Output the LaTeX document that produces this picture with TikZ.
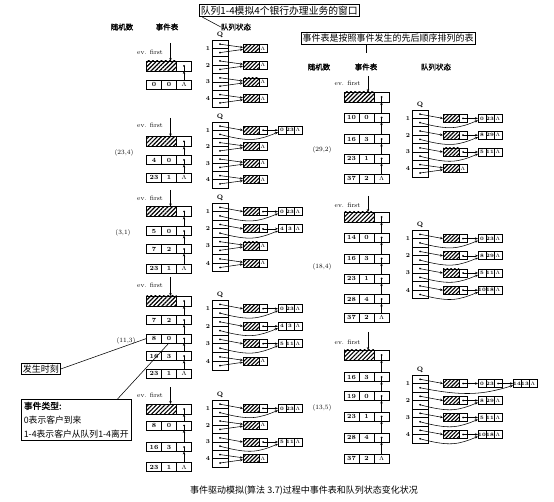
\documentclass[tikz,border=0pt]{standalone}
\usepackage{fontspec}
\newfontfamily\cjk{Noto Sans CJK SC}
\newfontfamily\cjkb[FakeBold=1.2]{Noto Sans CJK SC}
\usetikzlibrary{arrows.meta,patterns.meta}
\newcommand\fs[1]{\fontsize{#1}{#1}\selectfont}
\newcommand\LL{$\Lambda$}
\tikzset{
  bx/.style={draw, line width=0.7pt, inner sep=0pt, outer sep=0pt},
  cell/.style={bx, minimum width=15pt, minimum height=9pt, font=\fs{6.3}\bfseries},
  hcell/.style={bx, minimum width=30pt, minimum height=10pt, pattern={Lines[angle=45,distance=3pt,line width=1.2pt]}},
  pcell/.style={bx, minimum width=15pt, minimum height=10pt},
  qcell/.style={bx, minimum width=16pt},
  qh/.style={bx, minimum width=16pt, minimum height=8pt, pattern={Lines[angle=45,distance=2.7pt,line width=1.1pt]}},
  qp/.style={bx, minimum width=8pt, minimum height=8pt, font=\fs{5.5}},
  tc/.style={bx, minimum width=8pt, minimum height=8pt, font=\fs{5}\bfseries},
  arr/.style={-{Stealth[length=3pt,width=2.4pt]}, line width=0.55pt},
  ln/.style={line width=0.55pt},
  hdr/.style={font=\cjkb\fs{7.5}, inner sep=0pt},
  lbl/.style={font=\fs{6.5}, inner sep=0pt},
  evt/.style={font=\fs{6.5}, inner sep=0pt, anchor=east},
  qn/.style={font=\fs{6}\bfseries, inner sep=0pt},
  cbox/.style={draw, line width=0.7pt, font=\cjk\fs{9}, inner sep=1.5pt},
}
% event record: name, xleft, ycenter, a, b, c
\newcommand\evrec[6]{%
  \node[cell] (#1a) at (#2+7.5,#3) {#4};
  \node[cell] (#1b) at (#2+22.5,#3) {#5};
  \node[cell] (#1c) at (#2+37.5,#3) {#6};}
% link upper -> lower
\newcommand\evlink[2]{%
  \fill (#1c.center) circle (1pt);
  \draw[ln] (#1c.center) -- (#1c.south);
  \draw[arr] (#2c.north) -- (#1c.south);}
% head: name, xleft, ycenter, ev text y, arrow top y
\newcommand\evhead[5]{%
  \node[hcell] (#1a) at (#2+15,#3) {};
  \node[pcell] (#1c) at (#2+37.5,#3) {};
  \coordinate (#1t) at (#2+24,#5);
  \draw[arr] (#1t) -- (#1t |- #1a.north);
  \node[evt] (#1e) at (#2+16.5,#4) {ev. first};}
% queue column: name, xleft, ytop, cell height
\newcommand\qcol[4]{%
  \foreach \i in {1,...,8} {
    \node[qcell, minimum height=#4] (#1\i) at (#2+8,#3+#4*\i-#4/2) {};
    \fill (#1\i.center) circle (1pt);
  }
  \foreach \k in {1,...,4} {
    \node[qn] (#1n\k) at (#2-4,#3+#4*2*\k-#4) {\k};
  }
  \node[qn, font=\fs{6.5}\bfseries] (#1Q) at (#2+8,#3-5) {Q};}
% queue head node: name, xcol, ycenter, pointer content
\newcommand\qhead[4]{%
  \node[qh] (#1h) at (#2+39,#3) {};
  \node[qp] (#1p) at (#2+51,#3) {#4};}
% empty queue: col, front, rear, xcol, ycenter
\newcommand\qempty[5]{%
  \qhead{#1h#2}{#4}{#5}{\LL}
  \draw[arr] (#1#2.center) -- ([yshift=1pt]#1h#2h.west);
  \draw[arr] (#1#3.center) -- ([yshift=-1pt]#1h#2h.west);}
% one-element queue: col, front, rear, xcol, ycenter, a, b
\newcommand\qone[7]{%
  \qhead{#1h#2}{#4}{#5}{}
  \fill (#1h#2p.center) circle (1pt);
  \node[tc] (#1t#2a) at (#4+70,#5) {#6};
  \node[tc] (#1t#2b) at (#4+78,#5) {#7};
  \node[tc] (#1t#2c) at (#4+86,#5) {\LL};
  \draw[arr] (#1#2.center) -- (#1h#2h.west);
  \draw[arr] (#1h#2p.center) -- (#1t#2a.west);
  \draw[arr] (#1#3.center) .. controls +(30,8) and +(-20,8) .. ([yshift=2pt]#1t#2a.south west);}
\begin{document}
\begin{tikzpicture}[x=1pt,y=-1pt]
\useasboundingbox (0,0) rectangle (554,502);
% ---------- headers and notes ----------
\node[cbox, font=\cjk\fs{9.8}, anchor=west] (tl) at (199,10.5) {队列1-4模拟4个银行办理业务的窗口};
\node[hdr] (lh1) at (122,27) {随机数};
\node[hdr] (lh2) at (167,27) {事件表};
\node[hdr] (lh3) at (236,27) {队列状态};
\draw[ln] ([xshift=3pt]tl.south west) -- (lh3.west);
\node[cbox] (tr) at (388,38.5) {事件表是按照事件发生的先后顺序排列的表};
\node[hdr] (rh1) at (319,67) {随机数};
\node[hdr] (rh2) at (366,67) {事件表};
\node[hdr] (rh3) at (436,67) {队列状态};
\draw[ln] (tr.south -| rh2.north) -- ([yshift=10pt]rh2.north);
% ---------- L1 ----------
\evhead{L1h}{146.5}{66}{52}{43}
\evrec{L1r1}{146.5}{84.5}{0}{0}{\LL}
\evlink{L1h}{L1r1}
\qcol{L1q}{212}{40}{8.4}
\qempty{L1q}{1}{2}{212}{48.4}
\qempty{L1q}{3}{4}{212}{65.2}
\qempty{L1q}{5}{6}{212}{82}
\qempty{L1q}{7}{8}{212}{98.8}
% ---------- L2 ----------
\evhead{L2h}{146.5}{141.5}{125}{118}
\evrec{L2r1}{146.5}{160}{4}{0}{}
\evrec{L2r2}{146.5}{177.5}{23}{1}{\LL}
\evlink{L2h}{L2r1}
\evlink{L2r1}{L2r2}
\node[lbl] (L2l) at (124,153) {(23,4)};
\qcol{L2q}{212}{122}{8.25}
\qone{L2q}{1}{2}{212}{130.25}{0}{23}
\qempty{L2q}{3}{4}{212}{146.75}
\qempty{L2q}{5}{6}{212}{163.25}
\qempty{L2q}{7}{8}{212}{179.75}
% ---------- L3 ----------
\evhead{L3h}{146.5}{211.5}{198}{190}
\evrec{L3r1}{146.5}{231}{5}{0}{}
\evrec{L3r2}{146.5}{249}{7}{2}{}
\evrec{L3r3}{146.5}{268.5}{23}{1}{\LL}
\evlink{L3h}{L3r1}
\evlink{L3r1}{L3r2}
\evlink{L3r2}{L3r3}
\node[lbl] (L3l) at (123,233) {(3,1)};
\qcol{L3q}{212}{203}{8.6}
\qone{L3q}{1}{2}{212}{211.6}{0}{23}
\qone{L3q}{3}{4}{212}{228.8}{4}{3}
\qempty{L3q}{5}{6}{212}{246}
\qempty{L3q}{7}{8}{212}{263.2}
% ---------- L4 ----------
\evhead{L4h}{146.5}{301}{285}{277}
\evrec{L4r1}{146.5}{320}{7}{2}{}
\evrec{L4r2}{146.5}{338.5}{8}{0}{}
\evrec{L4r3}{146.5}{356}{16}{3}{}
\evrec{L4r4}{146.5}{373.5}{23}{1}{\LL}
\evlink{L4h}{L4r1}
\evlink{L4r1}{L4r2}
\evlink{L4r2}{L4r3}
\evlink{L4r3}{L4r4}
\node[lbl] (L4l) at (126,341) {(11,3)};
\qcol{L4q}{212}{300}{8.75}
\qone{L4q}{1}{2}{212}{308.75}{0}{23}
\qone{L4q}{3}{4}{212}{326.25}{4}{3}
\qone{L4q}{5}{6}{212}{343.75}{5}{11}
\qempty{L4q}{7}{8}{212}{361.25}
% notes
\node[cbox, anchor=west] (fs) at (21,369) {发生时刻};
\draw[ln] (fs.east) -- (L4r2a.west);
\node[cbox, font=\cjk\fontsize{8.8}{14}\selectfont, align=left, anchor=north west, inner sep=2.5pt] (et) at (21,399) {{\cjkb 事件类型:}\\0表示客户到来\\1-4表示客户从队列1-4离开};
\draw[ln] (L4r2b.south) -- ([xshift=-14pt]et.north east);
% ---------- L5 ----------
\evhead{L5h}{146.5}{409}{395}{387}
\evrec{L5r1}{146.5}{425.5}{8}{0}{}
\evrec{L5r2}{146.5}{447}{16}{3}{}
\evrec{L5r3}{146.5}{467}{23}{1}{\LL}
\evlink{L5h}{L5r1}
\evlink{L5r1}{L5r2}
\evlink{L5r2}{L5r3}
\qcol{L5q}{212}{400}{8.4}
\qone{L5q}{1}{2}{212}{408.4}{0}{23}
\qempty{L5q}{3}{4}{212}{425.2}
\qone{L5q}{5}{6}{212}{442}{5}{11}
\qempty{L5q}{7}{8}{212}{458.8}
% ---------- R1 ----------
\evhead{R1h}{344}{97}{83}{76}
\evrec{R1r1}{344}{117.5}{10}{0}{}
\evrec{R1r2}{344}{139}{16}{3}{}
\evrec{R1r3}{344}{158.5}{23}{1}{}
\evrec{R1r4}{344}{178.5}{37}{2}{\LL}
\evlink{R1h}{R1r1}
\evlink{R1r1}{R1r2}
\evlink{R1r2}{R1r3}
\evlink{R1r3}{R1r4}
\node[lbl] (R1l) at (322,150) {(29,2)};
\qcol{R1q}{412}{110}{8.4}
\qone{R1q}{1}{2}{412}{118.4}{0}{23}
\qone{R1q}{3}{4}{412}{135.2}{8}{29}
\qone{R1q}{5}{6}{412}{152}{5}{11}
\qempty{R1q}{7}{8}{412}{168.8}
% ---------- R2 ----------
\evhead{R2h}{344}{217}{205}{196}
\evrec{R2r1}{344}{237.5}{14}{0}{}
\evrec{R2r2}{344}{258.5}{16}{3}{}
\evrec{R2r3}{344}{278.5}{23}{1}{}
\evrec{R2r4}{344}{299}{28}{4}{}
\evrec{R2r5}{344}{317.5}{37}{2}{\LL}
\evlink{R2h}{R2r1}
\evlink{R2r1}{R2r2}
\evlink{R2r2}{R2r3}
\evlink{R2r3}{R2r4}
\evlink{R2r4}{R2r5}
\node[lbl] (R2l) at (322,267) {(18,4)};
\qcol{R2q}{412}{230}{8.6}
\qone{R2q}{1}{2}{412}{238.6}{0}{23}
\qone{R2q}{3}{4}{412}{255.8}{8}{29}
\qone{R2q}{5}{6}{412}{273}{5}{11}
\qone{R2q}{7}{8}{412}{290.2}{10}{18}
% ---------- R3 ----------
\evhead{R3h}{344}{355}{342}{332}
\evrec{R3r1}{344}{377}{16}{3}{}
\evrec{R3r2}{344}{396}{19}{0}{}
\evrec{R3r3}{344}{416.5}{23}{1}{}
\evrec{R3r4}{344}{437.5}{28}{4}{}
\evrec{R3r5}{344}{458.5}{37}{2}{\LL}
\evlink{R3h}{R3r1}
\evlink{R3r1}{R3r2}
\evlink{R3r2}{R3r3}
\evlink{R3r3}{R3r4}
\evlink{R3r4}{R3r5}
\node[lbl] (R3l) at (322,408) {(13,5)};
\qcol{R3q}{412}{375}{8.5}
\qhead{R3qh1}{412}{383.5}{}
\fill (R3qh1p.center) circle (1pt);
\node[tc] (R3qt1a) at (482,383.5) {0};
\node[tc] (R3qt1b) at (490,383.5) {23};
\node[tc] (R3qt1c) at (498,383.5) {};
\fill (R3qt1c.center) circle (1pt);
\node[tc] (R3qt2a) at (517,383.5) {14};
\node[tc] (R3qt2b) at (525,383.5) {13};
\node[tc] (R3qt2c) at (533,383.5) {\LL};
\draw[arr] (R3q1.center) -- (R3qh1h.west);
\draw[arr] (R3qh1p.center) -- (R3qt1a.west);
\draw[arr] (R3qt1c.center) -- (R3qt2a.west);
\draw[arr] (R3q2.center) .. controls +(45,9) and +(-30,9) .. ([yshift=2pt]R3qt2a.south west);
\qone{R3q}{3}{4}{412}{400.5}{8}{29}
\qone{R3q}{5}{6}{412}{417.5}{5}{11}
\qone{R3q}{7}{8}{412}{434.5}{10}{18}
% ---------- caption ----------
\node[font=\cjk\fs{9}, inner sep=0pt] (cap) at (304,491) {事件驱动模拟(算法 3.7)过程中事件表和队列状态变化状况};
\end{tikzpicture}
\end{document}
